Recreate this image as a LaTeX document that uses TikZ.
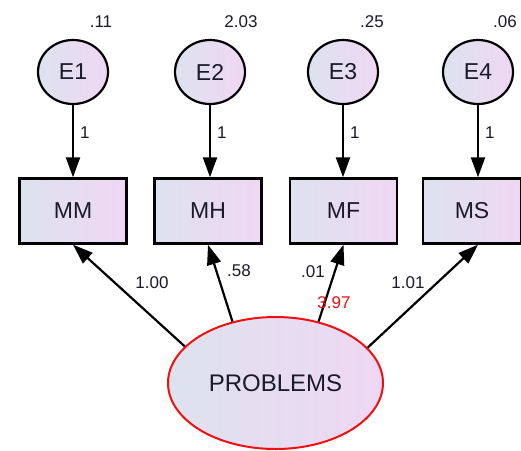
\documentclass[tikz,border=0pt]{standalone}
\usepackage{fontspec}
\setmainfont{Liberation Sans}
\usetikzlibrary{shapes.geometric,arrows.meta}
\definecolor{fillL}{HTML}{DDE2EE}
\definecolor{fillR}{HTML}{EFD7F3}
\definecolor{txt}{HTML}{1A1A2A}
\definecolor{redl}{HTML}{EE1111}
\begin{document}
\begin{tikzpicture}[x=1pt,y=-1pt,
  errnode/.style={ellipse,draw=black,line width=2.2pt,left color=fillL,right color=fillR,
    minimum width=70pt,minimum height=64pt,inner sep=0pt,text=txt,font=\fontsize{23}{23}\selectfont},
  obsnode/.style={rectangle,draw=black,line width=2.4pt,left color=fillL,right color=fillR,
    minimum width=107pt,minimum height=65pt,inner sep=0pt,text=txt,font=\fontsize{23}{23}\selectfont},
  latnode/.style={ellipse,draw=redl,line width=2pt,left color=fillL,right color=fillR,
    minimum width=215pt,minimum height=132pt,inner sep=0pt,text=txt,font=\fontsize{24}{24}\selectfont},
  arr/.style={line width=2.2pt,draw=black,-{Triangle[length=20pt,width=14pt]}},
  lbl/.style={inner sep=0pt,text=txt,font=\fontsize{17}{17}\selectfont},
  redlbl/.style={inner sep=0pt,text=redl,font=\fontsize{17}{17}\selectfont}
]
\useasboundingbox (0,0) rectangle (521,450);
\fill[white] (0,0) rectangle (521,450);
\clip (0,0) rectangle (521,450);

% error terms
\node[errnode] (E1) at (73,72) {E1};
\node[errnode] (E2) at (210,72) {E2};
\node[errnode] (E3) at (343,72) {E3};
\node[errnode] (E4) at (478,72) {E4};

% observed variables
\node[obsnode] (MM) at (73,211) {MM};
\node[obsnode] (MH) at (208,211) {MH};
\node[obsnode] (MF) at (343.5,211) {MF};
\node[obsnode,minimum width=98pt] (MS) at (472,211) {MS};

% latent variable
\node[latnode] (P) at (275.5,383) {PROBLEMS};

% variance labels
\node[lbl] (v1) at (101,22) {.11};
\node[lbl] (v2) at (241,22) {2.03};
\node[lbl] (v3) at (372,22) {.25};
\node[lbl] (v4) at (505,22) {.06};

% error paths
\draw[arr] (E1) -- (E1 |- MM.north) node[lbl,pos=0.38,right=6pt] (w1) {1};
\draw[arr] (E2) -- (E2 |- MH.north) node[lbl,pos=0.38,right=6pt] (w2) {1};
\draw[arr] (E3) -- (E3 |- MF.north) node[lbl,pos=0.38,right=6pt] (w3) {1};
\draw[arr] (E4) -- (E4 |- MS.north) node[lbl,pos=0.38,right=6pt] (w4) {1};

% loadings
\draw[arr] (P.158) -- (MM.south);
\draw[arr] (P.125) -- (MH.south);
\draw[arr] (P.55) -- (MF.south);
\draw[arr] (P.21) -- (E4 |- MS.south);

\node[lbl] (l1) at (152,283) {1.00};
\node[lbl] (l2) at (239,271) {.58};
\node[lbl] (l3) at (313,272) {.01};
\node[redlbl] (m1) at (334,303) {3.97};
\node[lbl] (l4) at (408,283) {1.01};
\end{tikzpicture}
\end{document}
